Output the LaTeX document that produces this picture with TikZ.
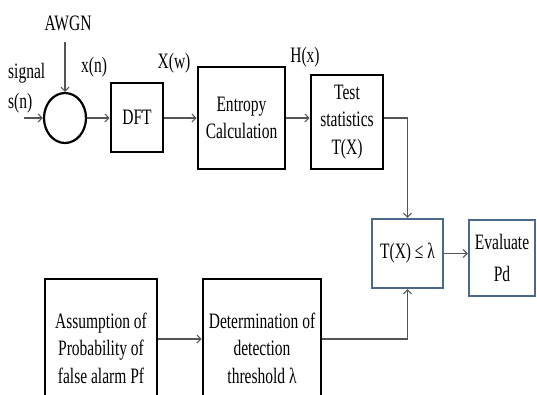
\documentclass[tikz,border=0pt]{standalone}
\usepackage{fontspec}
\setmainfont{Liberation Serif}[FakeStretch=0.705]
\usetikzlibrary{arrows.meta,shapes.geometric}
\definecolor{boxblue}{RGB}{74,105,140}
\definecolor{arrgray}{RGB}{85,85,85}
\begin{document}
\begin{tikzpicture}[x=1pt,y=-1pt,
  every node/.style={font=\fontsize{22}{27.5}\selectfont, inner sep=0pt},
  blk/.style={draw=black, line width=2.6pt, align=center},
  bblk/.style={draw=boxblue, line width=2.3pt, align=center},
  conn/.style={draw=arrgray, line width=1.1pt, -{Straight Barb[length=4pt,width=8pt]}},
]
\useasboundingbox (0,0) rectangle (537,394);
\clip (0,0) rectangle (537,394);

% blocks
\node[draw, ellipse, line width=2.2pt, minimum width=42pt, minimum height=50pt] (sum) at (65,118) {};
\node[blk, minimum width=52pt, minimum height=69pt] (dft) at (137,117.5) {DFT};
\node[blk, minimum width=87pt, minimum height=102pt] (ent) at (241.5,118) {Entropy\\Calculation};
\node[blk, minimum width=72pt, minimum height=94pt] (test) at (347,122) {Test\\statistics\\T(X)};
\node[bblk, minimum width=71pt, minimum height=69pt] (thr) at (407.5,253.5) {T(X) ≤ λ};
\node[bblk, minimum width=66pt, minimum height=76pt] (eval) at (502,258) {Evaluate\\[4pt]Pd};
\node[blk, minimum width=112pt, minimum height=138pt] (ass) at (101,348) {Assumption of\\Probability of\\false alarm Pf};
\node[blk, minimum width=118pt, minimum height=138pt] (det) at (262,348) {Determination of\\detection\\threshold λ};

% labels
\node (awgn) at (68,23) {AWGN};
\coordinate (awgnend) at (65,42);
\node[anchor=west] (sig) at (8,73) {signal};
\node[anchor=west] (sn) at (8,103) {s(n)};
\coordinate (sin) at (24,118);
\node (xn) at (94,67) {x(n)};
\node (xw) at (174,63) {X(w)};
\node (hx) at (305,57) {H(x)};

% connectors
\draw[conn] (awgnend) -- (sum.north);
\draw[conn] (sin) -- (sum.west);
\draw[conn] (sum.east) -- (dft.west |- sum.east);
\draw[conn] (dft.east |- sum.east) -- (ent.west |- sum.east);
\draw[conn] (ent.east) -- (test.west |- ent.east);
\draw[conn] (test.east |- ent.east) -| (thr.north);
\draw[conn] (thr.east) -- (eval.west |- thr.east);
\draw[conn] ([yshift=9pt]ass.east) -- ([yshift=9pt]det.west);
\draw[conn] ([yshift=9pt]det.east) -| (thr.south);
\end{tikzpicture}
\end{document}
